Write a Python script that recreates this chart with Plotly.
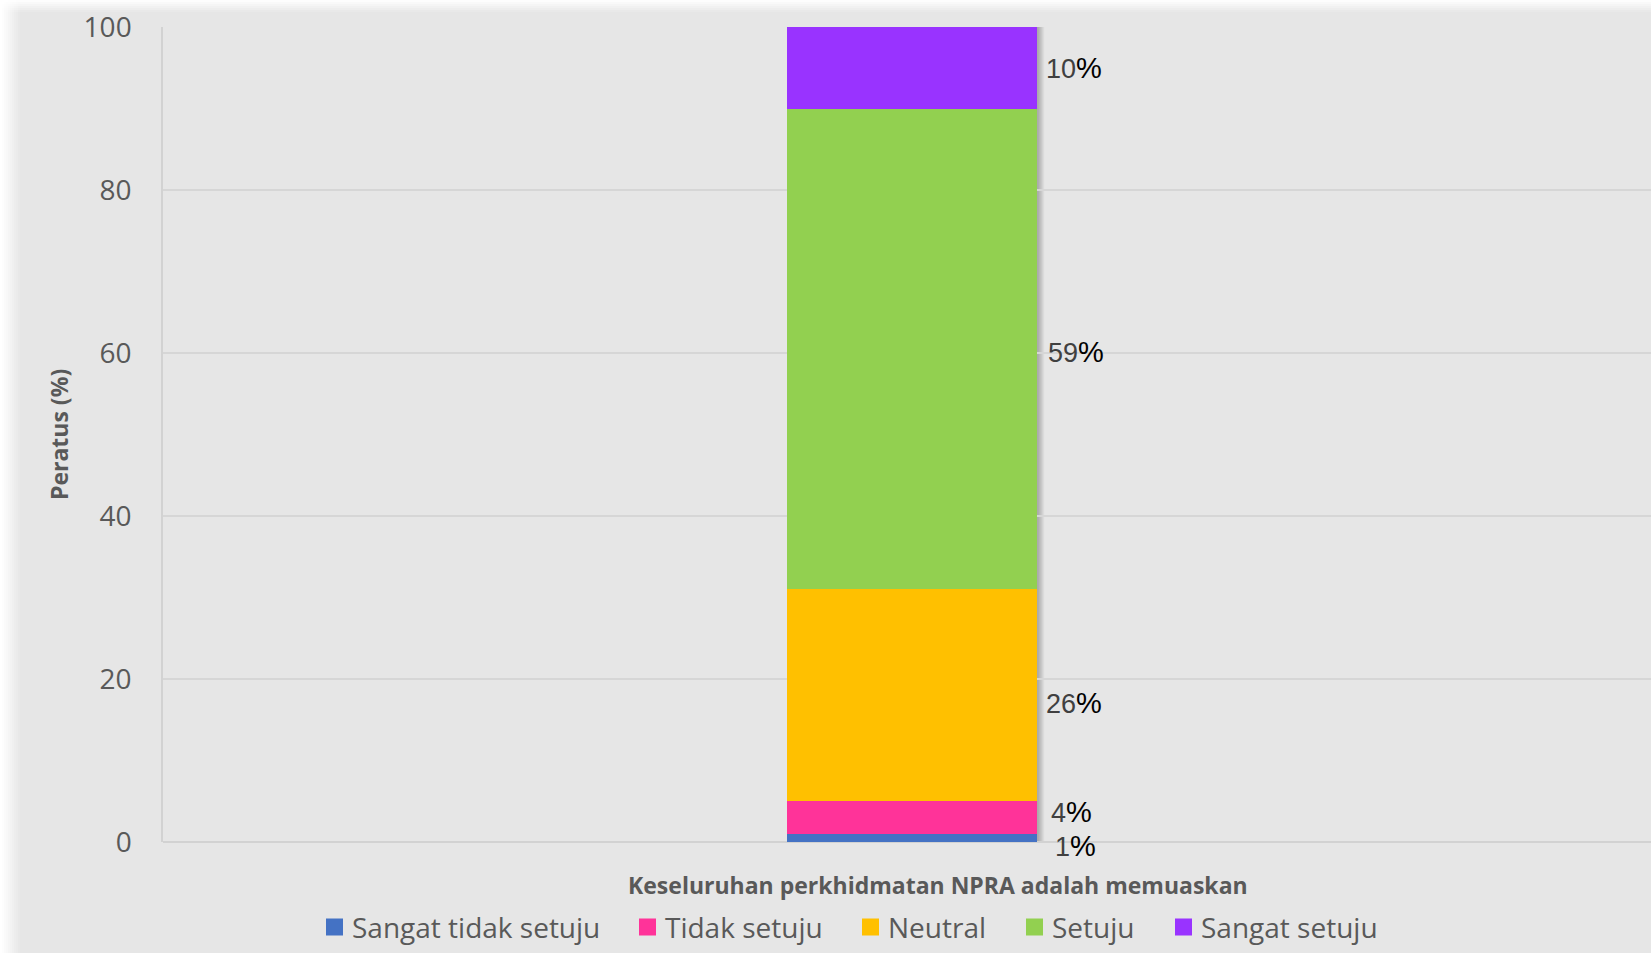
import plotly.graph_objects as go

# Survey question and response categories
category = "Keseluruhan perkhidmatan NPRA adalah memuaskan"
responses = ["Sangat tidak setuju", "Tidak setuju", "Neutral", "Setuju", "Sangat setuju"]
percentages = [1, 4, 26, 59, 10]
colors = ["#4472C4", "#FF3399", "#FFC000", "#92D050", "#9933FF"]
y_ticks = [0, 20, 40, 60, 80, 100]

# Figure geometry (pixels)
W, H = 1651, 953
ML, MR, MT, MB = 163, 0, 27, 111
PW, PH = W - ML - MR, H - MT - MB

BAR_W = 0.167
X_RANGE = [-0.5, 0.4933]
BG = "#e6e6e6"
TXT = "#595959"

# Legend layout: left edge of each swatch (px) and row centre
LEGEND_X = [326, 639, 862, 1026, 1175]
LEGEND_Y = 927
SWATCH = 17
SWATCH_TEXT_GAP = 7


def px_x(px):
    return (px - ML) / PW


def px_y(py):
    return (H - MB - py) / PH


fig = go.Figure()
for name, val, col in zip(responses, percentages, colors):
    fig.add_trace(go.Bar(
        x=[0], y=[val], name=name, width=BAR_W,
        marker=dict(color=col, line=dict(width=0)),
        hoverinfo="name+y", showlegend=False,
    ))

# Value labels beside each segment
label_xshift = [141, 137, 132, 134, 132]
label_yshift = [-8, 6, -8, -3, 0]
base = 0
for val, xs, ys in zip(percentages, label_xshift, label_yshift):
    fig.add_annotation(
        x=0, y=base + val / 2, xref="x", yref="y",
        text=f'{val}<span style="color:#000000;font-size:29px">%</span>',
        showarrow=False, xanchor="left", yanchor="middle",
        xshift=xs, yshift=ys,
        font=dict(family="Liberation Sans, Arial", size=27, color="#404040"),
    )
    base += val

# Axis captions
fig.add_annotation(
    x=px_x(938), y=px_y(885), xref="paper", yref="paper",
    text=f"<b>{category}</b>", showarrow=False,
    xanchor="center", yanchor="middle",
    font=dict(family="Open Sans", size=23, color=TXT),
)
fig.add_annotation(
    x=px_x(59), y=px_y(435), xref="paper", yref="paper",
    text="<b>Peratus (%)</b>", showarrow=False, textangle=-90,
    xanchor="center", yanchor="middle",
    font=dict(family="Open Sans", size=23, color=TXT),
)

shapes = []
# Legend: colour swatches with response names
for name, col, lx in zip(responses, colors, LEGEND_X):
    shapes.append(dict(
        type="rect", xref="paper", yref="paper",
        x0=px_x(lx), x1=px_x(lx + SWATCH),
        y0=px_y(LEGEND_Y + SWATCH / 2), y1=px_y(LEGEND_Y - SWATCH / 2),
        line=dict(width=0), fillcolor=col,
    ))
    fig.add_annotation(
        x=px_x(lx + SWATCH + SWATCH_TEXT_GAP), y=px_y(LEGEND_Y),
        xref="paper", yref="paper", text=name, showarrow=False,
        xanchor="left", yanchor="middle",
        font=dict(family="Open Sans", size=28, color=TXT),
    )

# Soft shadow along the right side of the bar
for i in range(7):
    shapes.append(dict(
        type="rect", xref="x", yref="y", xsizemode="pixel", xanchor=BAR_W / 2,
        x0=i, x1=i + 1, y0=0, y1=100, line=dict(width=0),
        fillcolor="#707070", opacity=0.55 * (1 - i / 7), layer="below",
    ))
# Light fade along the left and top edges of the canvas
for i in range(10):
    shapes.append(dict(
        type="rect", xref="paper", yref="paper",
        x0=px_x(i * 2), x1=px_x(i * 2 + 2), y0=px_y(H + 5), y1=px_y(-5),
        line=dict(width=0), fillcolor="#ffffff", opacity=1 - i / 10, layer="below",
    ))
for i in range(6):
    shapes.append(dict(
        type="rect", xref="paper", yref="paper",
        x0=px_x(-5), x1=px_x(W + 5), y0=px_y(i * 2 + 2), y1=px_y(i * 2),
        line=dict(width=0), fillcolor="#ffffff", opacity=0.9 * (1 - i / 6), layer="below",
    ))

fig.update_layout(
    width=W, height=H,
    margin=dict(l=ML, r=MR, t=MT, b=MB, pad=0),
    barmode="stack",
    paper_bgcolor=BG, plot_bgcolor=BG,
    font=dict(family="Open Sans", color=TXT),
    showlegend=False,
    shapes=shapes,
    xaxis=dict(
        range=X_RANGE, showticklabels=False, showgrid=False, zeroline=False,
        showline=False, ticks="", fixedrange=True,
    ),
    yaxis=dict(
        range=[0, 100], tickvals=y_ticks, ticks="",
        tickfont=dict(family="Open Sans", size=28, color=TXT),
        ticklabelstandoff=24,
        showgrid=True, gridcolor="#d6d6d6", gridwidth=1.5,
        showline=True, linecolor="#d2d2d2", linewidth=1.5,
        zeroline=True, zerolinecolor="#d2d2d2", zerolinewidth=1.5,
        fixedrange=True,
    ),
)

fig.write_html("out.html")
